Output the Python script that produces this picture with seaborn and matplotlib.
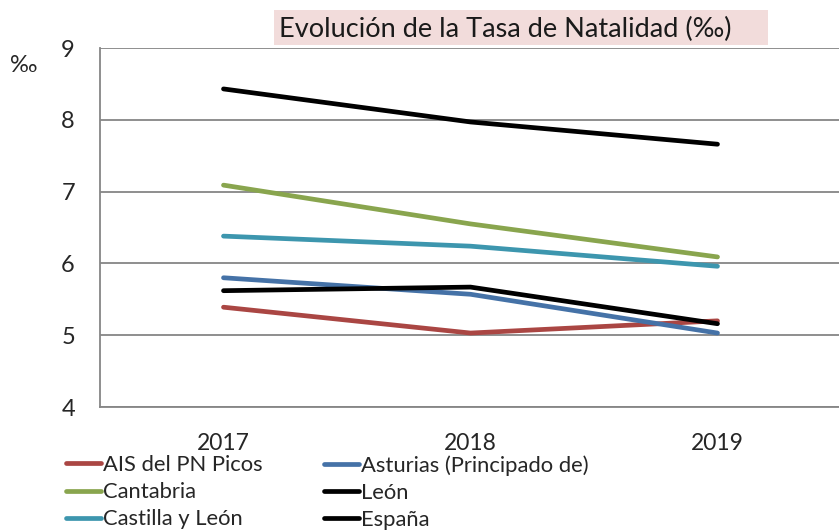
import matplotlib
matplotlib.use('Agg')
import matplotlib.pyplot as plt
import seaborn as sns
import pandas as pd
from matplotlib.patches import Rectangle
from matplotlib.lines import Line2D

# Datos (tasa de natalidad, ‰)
years = [2017, 2018, 2019]
ais_picos = [5.39, 5.03, 5.20]
asturias = [5.80, 5.57, 5.03]
cantabria = [7.09, 6.55, 6.09]
leon = [5.62, 5.67, 5.16]
castilla_leon = [6.38, 6.24, 5.96]
espana = [8.43, 7.97, 7.66]

series = {
    'AIS del PN Picos': ais_picos,
    'Asturias (Principado de)': asturias,
    'Cantabria': cantabria,
    'León': leon,
    'Castilla y León': castilla_leon,
    'España': espana,
}
colors = {
    'AIS del PN Picos': '#AA4643',
    'Asturias (Principado de)': '#4572A7',
    'Cantabria': '#89A54E',
    'León': '#000000',
    'Castilla y León': '#3D96AE',
    'España': '#000000',
}

rows = []
for name, vals in series.items():
    for y, v in zip(years, vals):
        rows.append({'anio': y, 'region': name, 'tasa': v})
df = pd.DataFrame(rows)

sns.set_style("white")
plt.rcParams['font.family'] = ['Lato', 'DejaVu Sans']

fig = plt.figure(figsize=(8.39, 5.31), dpi=100)
ax = fig.add_axes([100 / 839, 1 - 407 / 531, 741 / 839, (407 - 48) / 531])

sns.lineplot(data=df, x='anio', y='tasa', hue='region', palette=colors,
             hue_order=list(series.keys()), linewidth=3.4, ax=ax,
             legend=False, solid_capstyle='round')

ax.set_xlim(2016.5, 2019.5)
ax.set_ylim(4, 9)
ax.set_xticks(years)
ax.set_xticklabels([str(y) for y in years])
ax.set_yticks([4, 5, 6, 7, 8, 9])
ax.yaxis.grid(True, color='#868686', linewidth=1.3)
ax.set_axisbelow(True)
ax.tick_params(axis='y', length=0, pad=18, labelsize=17)
ax.tick_params(axis='x', length=0, pad=19, labelsize=16.5)
ax.set_xlabel('')
ax.set_ylabel('')
for s in ['top', 'right']:
    ax.spines[s].set_visible(False)
for s in ['left', 'bottom']:
    ax.spines[s].set_color('#868686')
    ax.spines[s].set_linewidth(1.3)

# Título con fondo rosa
fig.patches.append(Rectangle((274 / 839, 1 - 45 / 531), 494 / 839, 35 / 531,
                             transform=fig.transFigure, facecolor='#F2DCDB',
                             edgecolor='none', zorder=0))
fig.text(279 / 839, 1 - 29 / 531, 'Evolución de la Tasa de Natalidad (‰)',
         fontsize=19.5, ha='left', va='center', color='#1a1a1a')
fig.text(24 / 839, 1 - 66 / 531, '‰', fontsize=17, ha='center', va='center')

# Leyenda en dos columnas
handles = {n: Line2D([], [], color=colors[n], linewidth=3.4, solid_capstyle='round') for n in series}
left = ['AIS del PN Picos', 'Cantabria', 'Castilla y León']
right = ['Asturias (Principado de)', 'León', 'España']
for group, xpos in [(left, 66), (right, 324)]:
    fig.legend([handles[n] for n in group], group, loc='upper left',
               bbox_to_anchor=(xpos / 839, 1 - 455 / 531), frameon=False,
               fontsize=15.8, handlelength=1.6, handletextpad=0.1,
               labelspacing=0.33, borderpad=0, borderaxespad=0)

fig.savefig('out.png', dpi=100)
